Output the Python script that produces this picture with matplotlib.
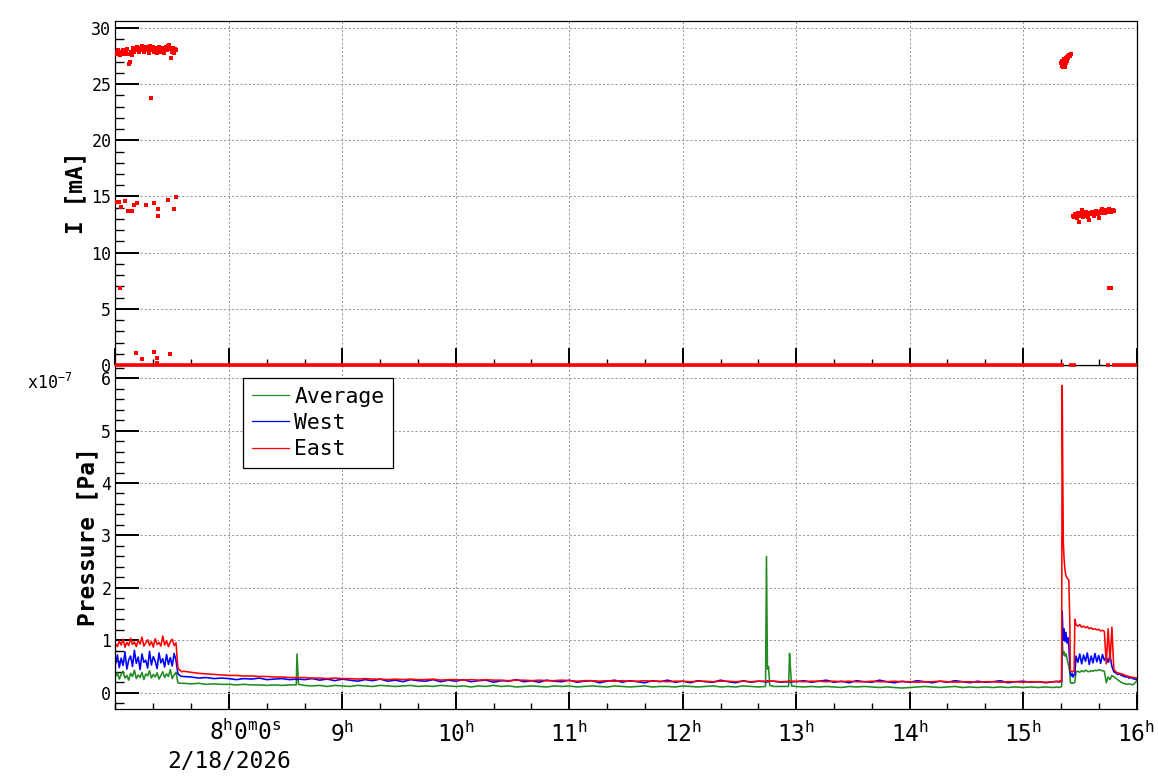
import numpy as np
import matplotlib
matplotlib.use("Agg")
import matplotlib.pyplot as plt
from matplotlib.ticker import MultipleLocator
from matplotlib.lines import Line2D

plt.rcParams["font.family"] = "DejaVu Sans Mono"
plt.rcParams["mathtext.default"] = "regular"

# time axis in minutes after 7:00, 2/18/2026
hour_ticks = [60, 120, 180, 240, 300, 360, 420, 480, 540]
hour_labels = ["", r"$9^{h}$", r"$10^{h}$", r"$11^{h}$", r"$12^{h}$",
               r"$13^{h}$", r"$14^{h}$", r"$15^{h}$", r"$16^{h}$"]
first_label = r"$8^{h}0^{m}0^{s}$"
date_label = "2/18/2026"

# ---- beam current I [mA] ----
i_t_start = np.arange(0, 32.5, 0.5)
i_start = [27.8, 27.9, 27.7, 28.0, 27.8, 27.6, 27.9, 27.8, 28.0, 27.7,
           27.9, 27.8, 28.1, 27.7, 26.8, 27.0, 27.9, 27.6, 28.0, 28.2,
           27.9, 28.1, 28.0, 28.3, 28.1, 27.9, 28.2, 28.0, 28.4, 28.1,
           27.9, 28.2, 28.3, 28.0, 28.1, 27.8, 28.2, 28.4, 28.0, 28.1,
           28.3, 27.9, 28.2, 28.0, 27.8, 28.1, 28.3, 28.0, 27.9, 28.2,
           28.0, 27.8, 28.1, 28.3, 28.0, 28.2, 28.4, 28.5, 28.1, 27.3,
           27.9, 28.2, 27.8, 28.1, 28.0]
i_t_misc = [0.7, 1.7, 2.8, 4.9, 6.7, 8.8, 9.7, 11.3, 16.0, 20.2, 22.4, 22.6,
            27.6, 30.8, 31.9, 18.9, 2.3, 10.7, 13.9, 20.2, 21.8, 28.7, 22.2,
            525.3, 526.7]
i_misc = [14.5, 14.5, 14.1, 14.6, 13.7, 13.7, 14.2, 14.4, 14.2, 14.4, 13.25, 13.9,
          14.7, 13.9, 14.95, 23.76, 6.85, 1.04, 0.5, 1.13, 0.6, 1.0, 0.15,
          6.85, 6.85]
i_t_burst = [500.2, 500.5, 500.8, 501.0, 501.3, 501.5, 501.8, 502.0, 502.3,
             502.5, 502.8, 503.0, 503.3, 503.6, 504.0, 504.4, 504.8, 505.2]
i_burst = [26.9, 26.6, 27.1, 26.5, 26.8, 27.2, 26.7, 27.0, 26.5,
           27.3, 26.9, 27.4, 27.1, 27.5, 27.3, 27.6, 27.5, 27.7]
i_t_end = np.arange(506.5, 528.5, 0.5)
i_end = [13.3, 13.2, 13.4, 13.3, 13.1, 13.5, 12.7, 13.4, 13.3, 13.8, 13.2,
         13.5, 13.4, 13.3, 13.6, 13.4, 13.2, 12.9, 13.5, 13.4, 13.6, 13.5,
         13.3, 13.6, 13.7, 13.5, 13.4, 13.1, 13.6, 13.7, 13.5, 13.9, 13.6,
         13.7, 13.5, 13.8, 13.6, 13.7, 13.9, 13.8, 13.6, 13.7, 13.8, 13.7]
# stretches where the current reads 0
i_zero_start = [0, 504.3, 523.9, 527.0]
i_zero_stop = [501.7, 508.0, 526.1, 540]

# ---- pressure [1e-7 Pa] ----
p_t = np.concatenate([
    np.arange(0, 36),
    np.arange(36, 96, 4),
    [95.6, 96.0, 96.4, 96.8],
    np.arange(100, 344, 4),
    [343.8, 344.3, 344.8, 345.4, 346.0],
    [348, 352],
    [356.0, 356.5, 357.0, 357.6],
    np.arange(360, 497, 4),
    [498, 499, 500, 500.4, 500.7, 501.0, 501.3, 501.7, 502.2, 502.7, 503.2,
     503.7, 504.2, 504.7, 505.0, 505.5, 506.0, 506.5, 507.0, 507.4, 508.0],
    np.arange(509, 541),
])

p_east = [
    # 0-35
    0.93, 0.88, 0.99, 0.91, 1.02, 0.87, 0.96, 0.90, 1.04, 0.92, 0.97, 0.88,
    1.00, 0.93, 1.06, 0.89, 0.95, 1.01, 0.90, 0.98, 0.87, 1.03, 0.92, 0.96,
    0.89, 1.08, 0.91, 0.99, 0.88, 0.97, 1.02, 0.90, 0.95, 0.47, 0.43, 0.40,
    # 36-92
    0.41, 0.39, 0.37, 0.36, 0.35, 0.34, 0.33, 0.33, 0.32, 0.32, 0.31, 0.31,
    0.30, 0.30, 0.29,
    0.29, 0.29, 0.28, 0.29,
    # 100-340
    0.29, 0.28, 0.28, 0.27, 0.28, 0.27, 0.27, 0.26, 0.27, 0.26,
    0.26, 0.25, 0.26, 0.25, 0.26, 0.25, 0.25, 0.26, 0.24, 0.25,
    0.25, 0.24, 0.25, 0.24, 0.25, 0.24, 0.24, 0.23, 0.24, 0.24,
    0.23, 0.24, 0.23, 0.23, 0.24, 0.23, 0.22, 0.23, 0.23, 0.22,
    0.23, 0.22, 0.23, 0.22, 0.22, 0.23, 0.22, 0.22, 0.21, 0.22,
    0.22, 0.21, 0.22, 0.22, 0.21, 0.22, 0.22, 0.21, 0.22, 0.21,
    0.22,
    0.22, 0.22, 0.21, 0.22, 0.22,
    0.22, 0.21,
    0.22, 0.22, 0.21, 0.22,
    # 360-496
    0.22, 0.21, 0.22, 0.22, 0.21, 0.22, 0.21, 0.22, 0.21, 0.21,
    0.22, 0.21, 0.21, 0.22, 0.21, 0.21, 0.20, 0.21, 0.21, 0.22,
    0.21, 0.20, 0.21, 0.21, 0.20, 0.21, 0.21, 0.20, 0.21, 0.21,
    0.20, 0.21, 0.21, 0.20, 0.21,
    # 498-508
    0.21, 0.22, 0.21, 0.22, 5.86, 4.20, 2.87, 2.55, 2.33, 2.23, 2.20,
    2.17, 2.15, 1.41, 0.42, 0.41, 0.40, 0.41, 0.40, 1.40, 1.30,
    # 509-540
    1.27, 1.30, 1.25, 1.27, 1.24, 1.26, 1.22, 1.24, 1.21, 1.22, 1.20, 1.21,
    1.18, 1.19, 1.17, 0.55, 1.22, 0.60, 1.25, 0.45, 0.40, 0.38, 0.37, 0.36,
    0.35, 0.33, 0.32, 0.31, 0.30, 0.29, 0.29, 0.28,
]

p_west = [
    # 0-35
    0.55, 0.72, 0.48, 0.66, 0.52, 0.78, 0.45, 0.63, 0.70, 0.50, 0.81, 0.56,
    0.68, 0.44, 0.74, 0.58, 0.62, 0.47, 0.79, 0.53, 0.69, 0.60, 0.46, 0.76,
    0.57, 0.65, 0.49, 0.73, 0.54, 0.67, 0.51, 0.75, 0.62, 0.36, 0.33, 0.31,
    # 36-92
    0.31, 0.30, 0.28, 0.29, 0.27, 0.28, 0.27, 0.25, 0.27, 0.26, 0.28, 0.25,
    0.26, 0.27, 0.25,
    0.26, 0.25, 0.27, 0.26,
    # 100-340
    0.25, 0.27, 0.24, 0.26, 0.23, 0.26, 0.24, 0.22, 0.25, 0.23,
    0.26, 0.22, 0.24, 0.21, 0.25, 0.23, 0.22, 0.25, 0.21, 0.24,
    0.22, 0.25, 0.21, 0.23, 0.24, 0.20, 0.23, 0.22, 0.25, 0.21,
    0.23, 0.20, 0.24, 0.22, 0.21, 0.24, 0.20, 0.22, 0.23, 0.19,
    0.22, 0.24, 0.20, 0.23, 0.21, 0.19, 0.23, 0.21, 0.24, 0.20,
    0.22, 0.19, 0.23, 0.21, 0.20, 0.24, 0.21, 0.19, 0.23, 0.20,
    0.22,
    0.21, 0.20, 0.23, 0.21, 0.22,
    0.22, 0.20,
    0.21, 0.22, 0.20, 0.21,
    # 360-496
    0.21, 0.23, 0.20, 0.22, 0.24, 0.20, 0.22, 0.19, 0.23, 0.21,
    0.20, 0.24, 0.21, 0.19, 0.22, 0.20, 0.23, 0.21, 0.19, 0.22,
    0.20, 0.23, 0.21, 0.19, 0.22, 0.20, 0.21, 0.23, 0.19, 0.21,
    0.22, 0.20, 0.21, 0.19, 0.21,
    # 498-508
    0.22, 0.20, 0.23, 0.21, 1.56, 1.20, 1.00, 1.22, 0.98, 1.15, 0.95,
    1.05, 0.88, 0.55, 0.38, 0.32, 0.37, 0.30, 0.34, 0.35, 0.70,
    # 509-540
    0.58, 0.74, 0.55, 0.72, 0.60, 0.76, 0.54, 0.70, 0.57, 0.75, 0.59, 0.71,
    0.56, 0.73, 0.62, 0.68, 0.58, 0.72, 0.50, 0.40, 0.38, 0.35, 0.36, 0.33,
    0.32, 0.30, 0.31, 0.28, 0.29, 0.27, 0.26, 0.25,
]

p_avg = [
    # 0-35
    0.30, 0.38, 0.26, 0.35, 0.41, 0.28, 0.33, 0.24, 0.37, 0.31, 0.43, 0.27,
    0.34, 0.29, 0.39, 0.25, 0.36, 0.32, 0.42, 0.28, 0.35, 0.30, 0.38, 0.26,
    0.33, 0.40, 0.29, 0.36, 0.31, 0.44, 0.27, 0.34, 0.39, 0.19, 0.18, 0.18,
    # 36-92
    0.18, 0.17, 0.18, 0.16, 0.17, 0.16, 0.16, 0.15, 0.16, 0.15, 0.15, 0.14,
    0.15, 0.14, 0.15,
    0.15, 0.74, 0.44, 0.16,
    # 100-340
    0.14, 0.13, 0.14, 0.12, 0.14, 0.13, 0.12, 0.14, 0.13, 0.12,
    0.14, 0.13, 0.12, 0.13, 0.14, 0.12, 0.13, 0.12, 0.14, 0.13,
    0.12, 0.13, 0.11, 0.13, 0.12, 0.14, 0.12, 0.13, 0.11, 0.12,
    0.13, 0.12, 0.11, 0.13, 0.12, 0.13, 0.11, 0.12, 0.13, 0.12,
    0.11, 0.13, 0.12, 0.11, 0.12, 0.13, 0.11, 0.12, 0.12, 0.11,
    0.13, 0.12, 0.11, 0.12, 0.13, 0.11, 0.12, 0.11, 0.13, 0.12,
    0.11,
    0.12, 2.60, 0.45, 0.50, 0.14,
    0.12, 0.12,
    0.12, 0.75, 0.45, 0.13,
    # 360-496
    0.12, 0.11, 0.12, 0.11, 0.12, 0.11, 0.10, 0.12, 0.11, 0.12,
    0.11, 0.10, 0.11, 0.10, 0.09, 0.10, 0.11, 0.12, 0.11, 0.10,
    0.11, 0.12, 0.10, 0.11, 0.10, 0.11, 0.10, 0.11, 0.10, 0.11,
    0.10, 0.11, 0.10, 0.11, 0.10,
    # 498-508
    0.11, 0.10, 0.11, 0.12, 1.08, 0.80, 0.72, 0.78, 0.70, 0.74, 0.65,
    0.58, 0.50, 0.40, 0.20, 0.18, 0.19, 0.18, 0.19, 0.20, 0.40,
    # 509-540
    0.41, 0.39, 0.42, 0.40, 0.43, 0.41, 0.40, 0.42, 0.41, 0.43, 0.42, 0.44,
    0.43, 0.42, 0.41, 0.19, 0.30, 0.25, 0.33, 0.30, 0.28, 0.25, 0.22, 0.20,
    0.18, 0.17, 0.16, 0.17, 0.16, 0.15, 0.18, 0.22,
]

series = [("Average", p_avg, "#228b22"), ("West", p_west, "#0000ff"), ("East", p_east, "#ff0000")]

W_PX, H_PX = 1158, 782
fig = plt.figure(figsize=(W_PX / 100, H_PX / 100), dpi=100)
left, width = 115.5 / W_PX, 1021 / W_PX
ax1 = fig.add_axes([left, 1 - 365 / H_PX, width, 344 / H_PX])
ax2 = fig.add_axes([left, 1 - 709 / H_PX, width, 344 / H_PX])
ax1.set_zorder(3)

# current panel
ax1.hlines(np.zeros(len(i_zero_start)), i_zero_start, i_zero_stop, color="red",
           linewidth=2.6, clip_on=False, zorder=4)
for tt, vv in [(i_t_start, i_start), (i_t_misc, i_misc), (i_t_burst, i_burst), (i_t_end, i_end)]:
    ax1.plot(tt, vv, "s", color="red", markersize=2.3, markeredgewidth=0, zorder=3)
ax1.set_ylim(0, 30.62)
ax1.yaxis.set_major_locator(MultipleLocator(5))
ax1.yaxis.set_minor_locator(MultipleLocator(1))
ax1.set_ylabel("I [mA]", fontsize=16.5, fontweight="bold", va="center")
ax1.yaxis.set_label_coords(-0.0387, 0.5)

# pressure panel
for name, vals, col in series:
    ax2.plot(p_t, vals, color=col, linewidth=1.15)
ax2.set_ylim(-0.31, 6.25)
ax2.yaxis.set_major_locator(MultipleLocator(1))
ax2.yaxis.set_minor_locator(MultipleLocator(0.2))
ax2.set_ylabel("Pressure [Pa]", fontsize=16.5, fontweight="bold", va="center")
ax2.yaxis.set_label_coords(-0.0269, 0.5)

for ax in (ax1, ax2):
    ax.set_xlim(0, 540)
    ax.xaxis.set_major_locator(MultipleLocator(60))
    ax.xaxis.set_minor_locator(MultipleLocator(20))
    ax.set_axisbelow(True)
    ax.grid(True, which="major", color="#999999", linestyle=(0, (2, 2)), linewidth=0.75)
    ax.tick_params(which="both", direction="in", top=False, right=False)
    ax.tick_params(axis="x", which="major", length=12, width=1.4)
    ax.tick_params(axis="x", which="minor", length=4.3, width=1.0)
    ax.tick_params(axis="y", which="major", length=17.3, width=1.4, labelsize=12, pad=3)
    ax.tick_params(axis="y", which="minor", length=6.5, width=1.0)
    for s in ax.spines.values():
        s.set_linewidth(0.9)

ax1.tick_params(axis="x", labelbottom=False)
ax2.set_xticks(hour_ticks)
ax2.set_xticklabels(hour_labels, fontsize=16.5)
ax2.tick_params(axis="x", which="major", pad=9)
ax2.annotate(first_label, xy=(hour_ticks[0], 0), xycoords=("data", "axes fraction"),
             xytext=(11.5, -22.3), textcoords="offset points",
             ha="center", va="baseline", fontsize=16.5)
ax2.annotate(date_label, xy=(hour_ticks[0], 0), xycoords=("data", "axes fraction"),
             xytext=(0, -42.5), textcoords="offset points",
             ha="center", va="baseline", fontsize=16.5)

fig.text(27 / W_PX, 1 - 389 / H_PX, r"x10$^{-7}$", fontsize=12, ha="left", va="baseline")

handles = [Line2D([], [], color=col, linewidth=0.9) for _, _, col in series]
ax2.legend(handles, [n for n, _, _ in series], loc="upper left",
           bbox_to_anchor=(0.1249, 0.9622), fontsize=15.4, frameon=True,
           fancybox=False, edgecolor="black", framealpha=1, borderpad=0.4,
           handlelength=1.75, handletextpad=0.25, labelspacing=0.3, borderaxespad=0)
ax2.get_legend().get_frame().set_linewidth(0.9)

fig.savefig("out.png", dpi=100)
